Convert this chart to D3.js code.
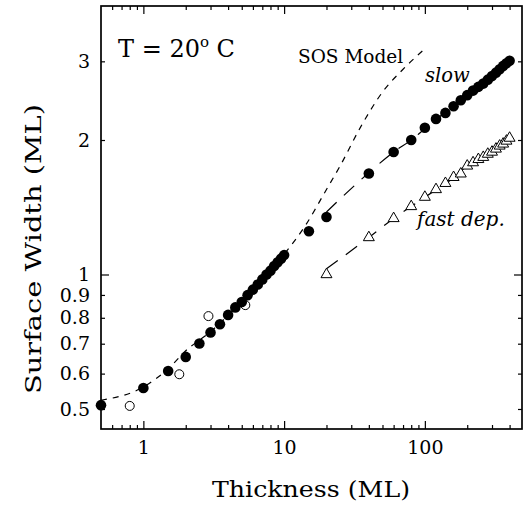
<!DOCTYPE html>
<html>
<head>
<meta charset="utf-8">
<script src="https://cdn.jsdelivr.net/npm/d3@7"></script>
<style>
  body { margin: 0; background: #fff; }
  svg { display: block; }
  text { font-family: "DejaVu Serif", serif; fill: #000; }
</style>
</head>
<body>
<svg id="chart" width="524" height="505"></svg>
<script>
// ---- data ----
const slowX = [0.5, 1, 1.5, 2, 2.5, 3, 3.5, 4, 4.5, 5, 5.5, 6, 6.5, 7, 7.5, 8, 8.5, 9, 9.5, 10,
               15, 20, 40, 60, 80, 100, 120, 140, 160, 180,
               200, 220, 240, 260, 280, 300, 320, 340, 360, 380, 400];
const slowY = [0.51, 0.557, 0.608, 0.654, 0.701, 0.742, 0.774, 0.812, 0.844, 0.868, 0.899, 0.925, 0.95, 0.975, 1.0, 1.02, 1.045, 1.065, 1.085, 1.105,
               1.25, 1.345, 1.683, 1.88, 2.0, 2.13, 2.23, 2.30, 2.38, 2.455,
               2.52, 2.58, 2.63, 2.675, 2.73, 2.78, 2.83, 2.88, 2.93, 2.97, 3.01];

const openX = [0.8, 1.8, 2.9, 5.3];
const openY = [0.508, 0.598, 0.807, 0.854];

const fastX = [20, 40, 60, 80, 100, 120, 140, 160, 180,
               200, 220, 240, 260, 280, 300, 320, 340, 360, 380, 400];
const fastY = [1.0, 1.21, 1.335, 1.42, 1.49, 1.55, 1.60, 1.65, 1.68,
               1.75, 1.78, 1.81, 1.83, 1.86, 1.88, 1.91, 1.94, 1.96, 1.99, 2.02];

const sosX = [0.5, 1, 1.5, 2, 3, 5, 7, 10, 14, 20, 25, 35, 50, 70, 100];
const sosY = [0.523, 0.56, 0.615, 0.675, 0.745, 0.87, 0.98, 1.11, 1.28, 1.55, 1.75, 2.14, 2.56, 2.88, 3.2];

const slowFitX = [20, 40, 60, 80, 100, 150, 200, 300, 400];
const slowFitY = [1.38, 1.69, 1.88, 2.0, 2.12, 2.35, 2.52, 2.78, 3.01];

const fastFitX = [20, 40, 60, 80, 100, 150, 200, 300, 400];
const fastFitY = [1.03, 1.21, 1.335, 1.42, 1.49, 1.62, 1.75, 1.88, 2.02];

const xMajor = [1, 10, 100];
const xMinor = [0.6, 0.7, 0.8, 0.9, 2, 3, 4, 5, 6, 7, 8, 9, 20, 30, 40, 50, 60, 70, 80, 90, 200, 300, 400];
const yLabeled = [0.5, 0.6, 0.7, 0.8, 0.9, 2, 3];
const yMajor = [1];

// ---- chart ----
const svg = d3.select("#chart");
const L = 101, R = 522, T = 6, B = 429;
const x = d3.scaleLog().domain([0.5, 490]).range([L, R]);
const y = d3.scaleLog().domain([0.451, 3.99]).range([B, T]);
const fmt = d => String(d);

function axis(gen, transform, vals, size, labels, pad) {
  const g = svg.append("g").attr("transform", transform)
    .call(gen.tickValues(vals).tickSize(size).tickPadding(pad || 3)
      .tickFormat(labels ? fmt : ""));
  g.select(".domain").remove();
  g.selectAll(".tick line").attr("stroke", "#000").attr("stroke-width", 1.2);
  g.selectAll(".tick text").style("font-family", "DejaVu Serif").style("font-size", "19px").attr("fill", "#000");
  return g;
}
// bottom
axis(d3.axisBottom(x), `translate(0,${B})`, xMajor, -8, true, 12);
axis(d3.axisBottom(x), `translate(0,${B})`, xMinor, -4, false);
// top
axis(d3.axisTop(x), `translate(0,${T})`, xMajor, -8, false);
axis(d3.axisTop(x), `translate(0,${T})`, xMinor, -4, false);
// left
axis(d3.axisLeft(y), `translate(${L},0)`, yLabeled, -4, true, 11);
axis(d3.axisLeft(y), `translate(${L},0)`, yMajor, -8, true, 11);
// right
axis(d3.axisRight(y), `translate(${R},0)`, yLabeled, -4, false);
axis(d3.axisRight(y), `translate(${R},0)`, yMajor, -8, false);

// frame
svg.append("rect").attr("x", L).attr("y", T).attr("width", R - L).attr("height", B - T)
  .attr("fill", "none").attr("stroke", "#000").attr("stroke-width", 1.7);

// lines
const line = d3.line().x(d => x(d[0])).y(d => y(d[1])).curve(d3.curveMonotoneX);
svg.append("path").attr("d", line(d3.zip(sosX, sosY)))
  .attr("fill", "none").attr("stroke", "#000").attr("stroke-width", 1.2).attr("stroke-dasharray", "6,6");
svg.append("path").attr("d", line(d3.zip(slowFitX, slowFitY)))
  .attr("fill", "none").attr("stroke", "#000").attr("stroke-width", 1.2).attr("stroke-dasharray", "14,10");
svg.append("path").attr("d", line(d3.zip(fastFitX, fastFitY)))
  .attr("fill", "none").attr("stroke", "#000").attr("stroke-width", 1.2).attr("stroke-dasharray", "14,10");

// markers
svg.append("g").selectAll("circle").data(d3.zip(openX, openY)).join("circle")
  .attr("cx", d => x(d[0])).attr("cy", d => y(d[1])).attr("r", 4.5)
  .attr("fill", "#fff").attr("stroke", "#000").attr("stroke-width", 1);
svg.append("g").selectAll("circle").data(d3.zip(slowX, slowY)).join("circle")
  .attr("cx", d => x(d[0])).attr("cy", d => y(d[1])).attr("r", 5.3)
  .attr("fill", "#000");
const tri = d3.symbol(d3.symbolTriangle).size(52);
svg.append("g").selectAll("path").data(d3.zip(fastX, fastY)).join("path")
  .attr("d", tri).attr("transform", d => `translate(${x(d[0])},${y(d[1])})`)
  .attr("fill", "#fff").attr("stroke", "#000").attr("stroke-width", 1);

// texts
const tt = svg.append("text").attr("x", 118).attr("y", 57).style("font-size", "24px");
tt.append("tspan").text("T = 20");
tt.append("tspan").attr("dy", -10).style("font-size", "15px").text("o");
tt.append("tspan").attr("dy", 10).text(" C");
svg.append("text").attr("x", 298).attr("y", 63).style("font-size", "18.5px").text("SOS Model");
svg.append("text").attr("x", 425).attr("y", 82).style("font-size", "19.5px").style("font-style", "italic").text("slow");
svg.append("text").attr("x", 417).attr("y", 226).style("font-size", "20px").style("font-style", "italic").text("fast dep.");

svg.append("text").attr("x", 311).attr("y", 497).attr("text-anchor", "middle")
  .attr("textLength", 198).attr("lengthAdjust", "spacingAndGlyphs")
  .style("font-size", "23px").text("Thickness (ML)");
svg.append("text").attr("transform", "translate(41,249) rotate(-90)").attr("text-anchor", "middle")
  .attr("textLength", 290).attr("lengthAdjust", "spacingAndGlyphs")
  .style("font-size", "23px").text("Surface Width (ML)");
</script>
</body>
</html>
